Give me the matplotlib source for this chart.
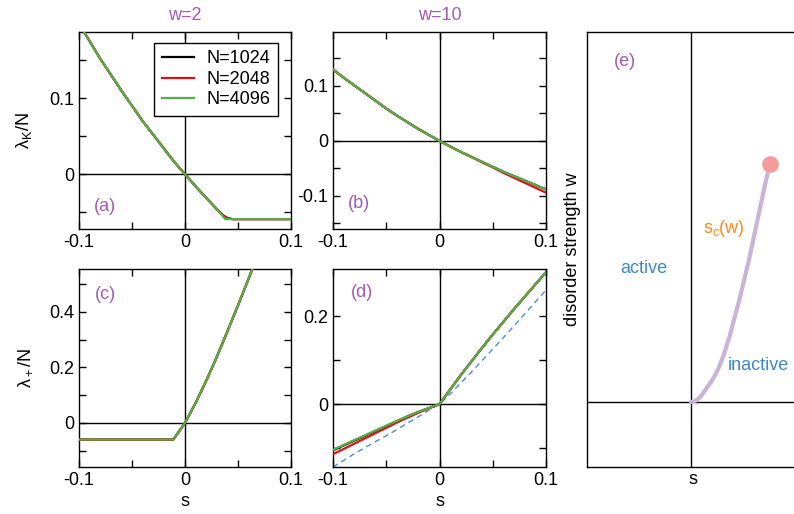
# Fig: lambda_K/N and lambda_+/N vs s for w=2 and w=10, plus sketch of s_c(w).
import matplotlib
matplotlib.use("Agg")
import matplotlib.pyplot as plt

plt.rcParams["font.family"] = ["Liberation Sans", "DejaVu Sans"]
plt.rcParams["mathtext.fontset"] = "custom"
plt.rcParams["mathtext.rm"] = "Liberation Sans"
plt.rcParams["mathtext.it"] = "Liberation Sans:italic"
plt.rcParams["mathtext.default"] = "regular"
plt.rcParams["font.size"] = 13

SIZES = ["N=1024", "N=2048", "N=4096"]
COLORS = ["black", "#e0101a", "#55ad45"]
PURPLE = "#a35bb5"
BLUE = "#3f88c5"
ORANGE = "#ff8a1e"

# (a) w=2, lambda_K/N
s_a = [-0.1, -0.09, -0.08, -0.07, -0.06, -0.05, -0.04, -0.03, -0.02, -0.01, 0.0,
       0.01, 0.02, 0.03, 0.035, 0.038, 0.04, 0.045, 0.05, 0.07, 0.1]
a_1024 = [0.198, 0.175, 0.152, 0.131, 0.110, 0.090, 0.070, 0.052, 0.034, 0.016, 0.0,
          -0.016, -0.031, -0.046, -0.053, -0.056, -0.058, -0.059, -0.059, -0.059, -0.059]
a_2048 = [0.198, 0.175, 0.152, 0.131, 0.110, 0.090, 0.070, 0.052, 0.034, 0.016, 0.0,
          -0.016, -0.031, -0.046, -0.053, -0.056, -0.0575, -0.059, -0.059, -0.059, -0.059]
a_4096 = [0.198, 0.175, 0.152, 0.131, 0.110, 0.090, 0.070, 0.052, 0.034, 0.016, 0.0,
          -0.016, -0.031, -0.046, -0.054, -0.059, -0.059, -0.059, -0.059, -0.059, -0.059]

# (b) w=10, lambda_K/N
s_b = [-0.1, -0.09, -0.08, -0.07, -0.06, -0.05, -0.04, -0.03, -0.02, -0.01, 0.0,
       0.01, 0.02, 0.03, 0.04, 0.05, 0.06, 0.07, 0.08, 0.09, 0.1]
b_1024 = [0.130, 0.115, 0.101, 0.087, 0.073, 0.059, 0.046, 0.034, 0.022, 0.011, 0.0,
          -0.010, -0.020, -0.029, -0.038, -0.047, -0.056, -0.064, -0.072, -0.080, -0.088]
b_2048 = [0.130, 0.115, 0.101, 0.087, 0.073, 0.059, 0.046, 0.034, 0.022, 0.011, 0.0,
          -0.010, -0.020, -0.029, -0.039, -0.048, -0.058, -0.067, -0.076, -0.085, -0.094]
b_4096 = [0.130, 0.115, 0.101, 0.087, 0.073, 0.059, 0.046, 0.034, 0.022, 0.011, 0.0,
          -0.010, -0.020, -0.029, -0.038, -0.047, -0.056, -0.064, -0.072, -0.080, -0.088]

# (c) w=2, lambda_+/N
s_c = [-0.1, -0.05, -0.011, 0.0, 0.01, 0.02, 0.03, 0.04, 0.05, 0.06, 0.07, 0.08, 0.1]
c_1024 = [-0.060, -0.060, -0.060, 0.0, 0.072, 0.152, 0.238, 0.330, 0.424, 0.520, 0.620, 0.720, 0.930]
c_2048 = [-0.060, -0.060, -0.060, 0.0, 0.072, 0.152, 0.238, 0.330, 0.424, 0.520, 0.620, 0.720, 0.930]
c_4096 = [-0.060, -0.060, -0.060, 0.0, 0.072, 0.152, 0.238, 0.330, 0.424, 0.520, 0.620, 0.720, 0.930]

# (d) w=10, lambda_+/N
s_d = s_b
d_1024 = [-0.105, -0.094, -0.083, -0.072, -0.061, -0.050, -0.039, -0.028, -0.018, -0.009, 0.0,
          0.033, 0.066, 0.097, 0.128, 0.158, 0.187, 0.216, 0.244, 0.272, 0.300]
d_2048 = [-0.114, -0.102, -0.090, -0.078, -0.066, -0.054, -0.042, -0.031, -0.020, -0.010, 0.0,
          0.033, 0.066, 0.097, 0.128, 0.158, 0.187, 0.216, 0.244, 0.272, 0.300]
d_4096 = [-0.104, -0.093, -0.082, -0.071, -0.060, -0.049, -0.038, -0.028, -0.018, -0.009, 0.0,
          0.033, 0.066, 0.097, 0.128, 0.158, 0.187, 0.216, 0.244, 0.272, 0.300]
d_approx = [-0.143, -0.128, -0.113, -0.099, -0.085, -0.072, -0.058, -0.043, -0.029, -0.014, 0.0,
            0.023, 0.048, 0.073, 0.099, 0.125, 0.151, 0.178, 0.205, 0.232, 0.259]

# (e) sketch of the critical line s_c(w)
e_w = [0.0, 0.02, 0.05, 0.1, 0.2, 0.35, 0.5, 0.7, 1.0, 1.3, 1.6, 1.9, 2.2, 2.5,
       2.8, 3.1, 3.4, 3.66]
e_s = [0.0, 0.045, 0.07, 0.1, 0.145, 0.21, 0.26, 0.31, 0.37, 0.42, 0.47, 0.515,
       0.56, 0.60, 0.64, 0.68, 0.72, 0.76]


def style(ax, ylim, yticks, yminor, ylabels):
    ax.set_xlim(-0.1, 0.1)
    ax.set_ylim(*ylim)
    ax.set_xticks([-0.1, 0.0, 0.1])
    ax.set_xticks([-0.05, 0.05], minor=True)
    ax.set_xticklabels(["-0.1", "0", "0.1"])
    ax.set_yticks(yticks)
    ax.set_yticks(yminor, minor=True)
    ax.set_yticklabels(ylabels)
    ax.tick_params(which="both", direction="in", top=True, right=True,
                   length=5, width=1, pad=3.5, labelsize=13)
    ax.axhline(0, color="black", lw=1.0, zorder=1)
    ax.axvline(0, color="black", lw=1.0, zorder=1)
    for sp in ax.spines.values():
        sp.set_linewidth(1.0)


def draw(ax, s, ys):
    for y, c, lab in zip(ys, COLORS, SIZES):
        ax.plot(s, y, color=c, lw=1.6, label=lab, zorder=3)


fig = plt.figure(figsize=(7.94, 5.14), dpi=100)
W, H = 794, 514


def axes_px(l, t, r, b):
    return fig.add_axes([l / W, 1 - b / H, (r - l) / W, (b - t) / H])


ax_a = axes_px(79, 32, 291, 229)
ax_b = axes_px(333, 32, 546, 229)
ax_c = axes_px(79, 269, 291, 467)
ax_d = axes_px(333, 269, 546, 467)
ax_e = axes_px(587, 32, 799, 467)

draw(ax_a, s_a, [a_1024, a_2048, a_4096])
style(ax_a, (-0.072, 0.187), [0.0, 0.1], [-0.05, 0.05, 0.15], ["0", "0.1"])
ax_a.set_ylabel(r"$\lambda_K$/N")
ax_a.yaxis.set_label_coords(-0.21, 0.5)
ax_a.set_title("w=2", color=PURPLE, fontsize=13, pad=9)
ax_a.text(0.12, 0.115, "(a)", color=PURPLE, transform=ax_a.transAxes,
          ha="center", va="center")
leg = ax_a.legend(loc="upper right", bbox_to_anchor=(0.939, 0.944), borderaxespad=0,
                  fancybox=False, edgecolor="black", framealpha=1, fontsize=13,
                  handlelength=1.8, handletextpad=0.7, labelspacing=0.2,
                  borderpad=0.4)
leg.get_frame().set_linewidth(1.0)

draw(ax_b, s_b, [b_1024, b_2048, b_4096])
style(ax_b, (-0.16, 0.198), [-0.1, 0.0, 0.1], [-0.15, -0.05, 0.05, 0.15],
      ["-0.1", "0", "0.1"])
ax_b.set_title("w=10", color=PURPLE, fontsize=13, pad=9)
ax_b.text(0.12, 0.13, "(b)", color=PURPLE, transform=ax_b.transAxes,
          ha="center", va="center")

draw(ax_c, s_c, [c_1024, c_2048, c_4096])
style(ax_c, (-0.159, 0.555), [0.0, 0.2, 0.4], [-0.1, 0.1, 0.3, 0.5],
      ["0", "0.2", "0.4"])
ax_c.set_ylabel(r"$\lambda_+$/N")
ax_c.yaxis.set_label_coords(-0.21, 0.5)
ax_c.set_xlabel("s", labelpad=3)
ax_c.text(0.127, 0.869, "(c)", color=PURPLE, transform=ax_c.transAxes,
          ha="center", va="center")

draw(ax_d, s_d, [d_1024, d_2048, d_4096])
ax_d.plot(s_d, d_approx, color="#4a8fd0", lw=1.0, ls=(0, (4, 3)), zorder=2)
style(ax_d, (-0.143, 0.307), [0.0, 0.2], [-0.1, 0.1], ["0", "0.2"])
ax_d.set_xlabel("s", labelpad=3)
ax_d.text(0.136, 0.879, "(d)", color=PURPLE, transform=ax_d.transAxes,
          ha="center", va="center")

# (e)
ax_e.set_xlim(-1, 1.04)
ax_e.set_ylim(-1, 5.7)
ax_e.set_xticks([])
ax_e.set_yticks([])
ax_e.axhline(0, color="black", lw=1.0)
ax_e.axvline(0, color="black", lw=1.0)
for sp in ax_e.spines.values():
    sp.set_linewidth(1.0)
ax_e.plot(e_s, e_w, color="#c9b3d9", lw=3, solid_capstyle="round",
          solid_joinstyle="round", zorder=3)
ax_e.plot(e_s[-1], e_w[-1], "o", color="#f49b9b", ms=11, zorder=4)
ax_e.text(-0.635, 5.24, "(e)", color=PURPLE, ha="center", va="center")
ax_e.text(-0.452, 2.065, "active", color=BLUE, ha="center", va="center")
ax_e.text(0.318, 2.68, r"$s_c$(w)", color=ORANGE, ha="center", va="center")
ax_e.text(0.356, 0.57, "inactive", color=BLUE, ha="left", va="center")
ax_e.set_xlabel("s", labelpad=3)
ax_e.set_ylabel("disorder strength w")
ax_e.yaxis.set_label_coords(-0.03, 0.5)

fig.savefig("out.png", dpi=100)
print("saved -> out.png")
